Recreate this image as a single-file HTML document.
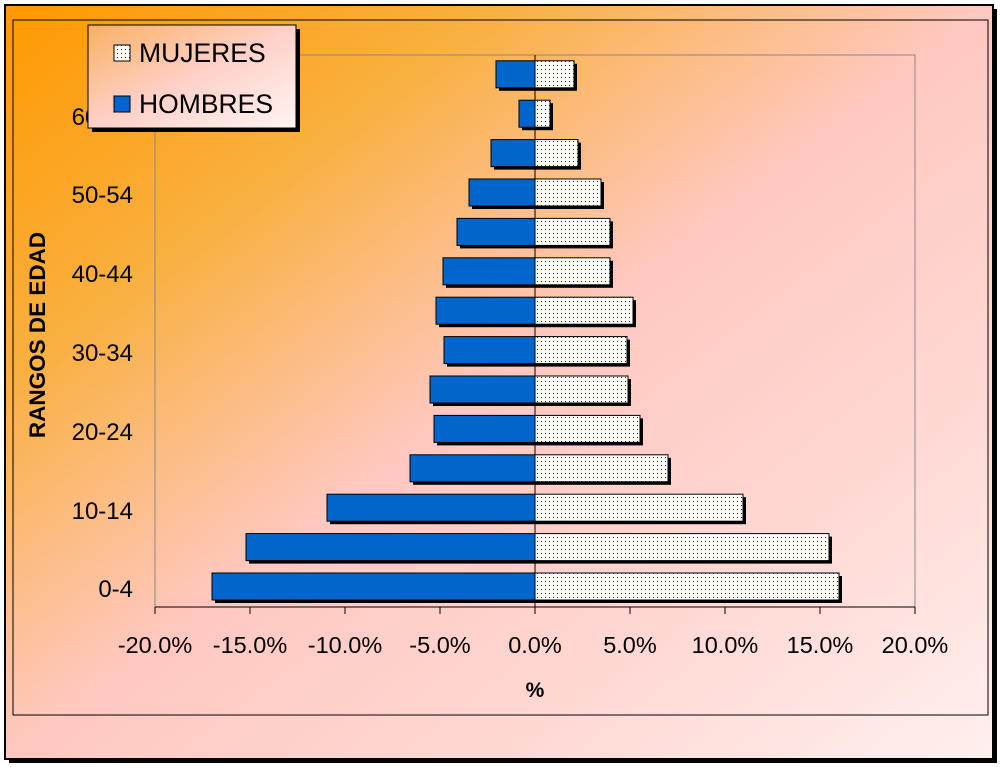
<!DOCTYPE html>
<html><head><style>
body{margin:0;background:#fff;width:1003px;height:767px;overflow:hidden}
svg{display:block}
text{font-family:"Liberation Sans",sans-serif}
</style></head><body>
<svg width="1003" height="767" viewBox="0 0 1003 767">
<defs>
<linearGradient id="bg" x1="0" y1="0" x2="1" y2="1" gradientUnits="objectBoundingBox">
<stop offset="0" stop-color="#ff9900"/>
<stop offset="0.25" stop-color="#f9b040"/>
<stop offset="0.5" stop-color="#ffc8c0"/>
<stop offset="0.75" stop-color="#ffd8d4"/>
<stop offset="1" stop-color="#fff0ee"/>
</linearGradient>
<linearGradient id="lg" x1="0" y1="0" x2="1" y2="1">
<stop offset="0" stop-color="#f8b060"/>
<stop offset="0.5" stop-color="#ffd0c8"/>
<stop offset="1" stop-color="#fff4f2"/>
</linearGradient>
<pattern id="dots" width="4" height="4" patternUnits="userSpaceOnUse">
<rect width="4" height="4" fill="#fff"/>
<rect x="1" y="1" width="1" height="1" fill="#0000cc"/>
</pattern>
</defs>
<rect x="9" y="9" width="988" height="754" fill="#000"/>
<rect x="5" y="5" width="988" height="754" fill="url(#bg)" stroke="#000" stroke-width="2"/>
<rect x="13" y="20" width="975" height="695" fill="none" stroke="#000" stroke-width="1"/>
<rect x="155" y="55" width="760" height="552" fill="none" stroke="#888" stroke-width="1"/>
<g id="bars"></g>
<line x1="535" y1="55" x2="535" y2="607" stroke="#000"/>
<line x1="155" y1="607" x2="915" y2="607" stroke="#000"/>
<g stroke="#000">
<line x1="155" y1="607" x2="155" y2="614"/><line x1="250" y1="607" x2="250" y2="614"/>
<line x1="345" y1="607" x2="345" y2="614"/><line x1="440" y1="607" x2="440" y2="614"/>
<line x1="535" y1="607" x2="535" y2="614"/><line x1="630" y1="607" x2="630" y2="614"/>
<line x1="725" y1="607" x2="725" y2="614"/><line x1="820" y1="607" x2="820" y2="614"/>
<line x1="915" y1="607" x2="915" y2="614"/>
</g>
<g font-size="23.5" fill="#000" text-anchor="middle">
<text x="155" y="653">-20.0%</text><text x="250" y="653">-15.0%</text>
<text x="345" y="653">-10.0%</text><text x="440" y="653">-5.0%</text>
<text x="535" y="653">0.0%</text><text x="630" y="653">5.0%</text>
<text x="725" y="653">10.0%</text><text x="820" y="653">15.0%</text>
<text x="915" y="653">20.0%</text>
</g>
<text x="535" y="697" font-weight="bold" font-size="21" text-anchor="middle">%</text>
<g font-size="24" fill="#000" text-anchor="end">
<text x="133" y="597">0-4</text><text x="133" y="519">10-14</text>
<text x="133" y="440">20-24</text><text x="133" y="361">30-34</text>
<text x="133" y="282">40-44</text><text x="133" y="203">50-54</text>
<text x="133" y="125">60-64</text>
</g>
<text transform="translate(45,335) rotate(-90)" font-size="22.5" font-weight="bold" text-anchor="middle">RANGOS DE EDAD</text>
<rect x="92" y="29" width="208" height="103" fill="#000"/>
<rect x="88" y="25" width="208" height="103" fill="url(#lg)" stroke="#000"/>
<rect x="114" y="45" width="16" height="16" fill="url(#dots)" stroke="#000"/>
<rect x="114" y="96" width="16" height="16" fill="#0066cc" stroke="#000"/>
<text x="139" y="62" font-size="26.5">MUJERES</text>
<text x="139" y="113" font-size="26.5">HOMBRES</text>
</svg>
<script>
var men=[212,246,327,410,434,430,444,436,443,457,469,491,519,496];
var wom=[839,829,743,668,640,628,627,633,610,610,601,578,550,574];
var g=document.getElementById('bars'),s='';
for(var i=0;i<14;i++){var c=587-i*39.4,y=c-14,h=27;
s+='<rect x="'+(men[i]+3)+'" y="'+(y+3)+'" width="'+(535-men[i])+'" height="'+h+'" fill="#000"/>';
s+='<rect x="'+men[i]+'" y="'+y+'" width="'+(535-men[i])+'" height="'+h+'" fill="#0066cc" stroke="#000" stroke-width="1"/>';
s+='<rect x="538" y="'+(y+3)+'" width="'+(wom[i]-535)+'" height="'+h+'" fill="#000"/>';
s+='<rect x="535" y="'+y+'" width="'+(wom[i]-535)+'" height="'+h+'" fill="url(#dots)" stroke="#000" stroke-width="1"/>';}
g.innerHTML=s;
</script>
</body></html>
